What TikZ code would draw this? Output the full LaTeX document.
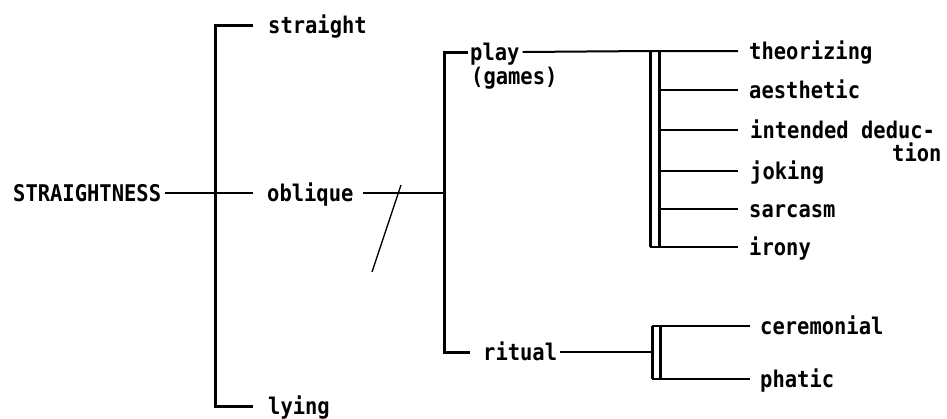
\documentclass[tikz,border=0pt]{standalone}
\usepackage{fontspec}
\setmainfont[FakeStretch=0.89,BoldFont={DejaVu Sans Mono Bold}]{DejaVu Sans Mono}
\begin{document}
\begin{tikzpicture}[x=1pt,y=-1pt,
  lbl/.style={font=\fontsize{23}{26}\selectfont\bfseries, inner sep=0pt, text height=16pt, text depth=0pt, anchor=west},
  brk/.style={line width=3pt, line cap=butt, line join=miter},
  twig/.style={line width=2pt},
  bar/.style={line width=3pt}]
\useasboundingbox (0,0) rectangle (947,418);
% labels
\node[lbl] (S) at (13,193) {STRAIGHTNESS};
\node[lbl] (straight) at (268,25) {straight};
\node[lbl] (oblique) at (267,193) {oblique};
\node[lbl] (lying) at (268,406) {lying};
\node[lbl] (play) at (470,52) {play};
\node[lbl] (games) at (471,76) {(games)};
\node[lbl] (ritual) at (483,352) {ritual};
\node[lbl] (theo) at (749,51) {theorizing};
\node[lbl] (aest) at (749,90) {aesthetic};
\node[lbl] (inte) at (750,130) {intended deduc-};
\node[lbl] (tion) at (892,153) {tion};
\node[lbl] (joke) at (750,171) {joking};
\node[lbl] (sarc) at (749,209) {sarcasm};
\node[lbl] (iron) at (749,247) {irony};
\node[lbl] (cere) at (760,326) {ceremonial};
\node[lbl] (phat) at (760,379) {phatic};
% junction coordinates
\coordinate (b1t) at (215,25);
\coordinate (b1b) at (215,406);
\coordinate (b2t) at (444,52);
\coordinate (b2m) at (444,193);
\coordinate (b2b) at (444,352);
\coordinate (d1a) at (650,51);
\coordinate (d1b) at (659,51);
\coordinate (d1c) at (650,247);
\coordinate (d1d) at (659,247);
\coordinate (d2a) at (652,326);
\coordinate (d2b) at (660,326);
\coordinate (d2c) at (652,379);
\coordinate (d2d) at (660,379);
% first bracket
\draw[brk] ([xshift=-15pt]straight.west) -- (b1t) -- (b1b) -- ([xshift=-15pt]lying.west);
\draw[twig] ([xshift=4pt]S.east) -- ([xshift=-14pt]oblique.west);
\draw[twig] ([xshift=9pt]oblique.east) -- (b2m);
% second bracket
\draw[brk] ([xshift=-2pt]play.west) -- (b2t) -- (b2b) -- ([xshift=-13pt]ritual.west);
\draw[twig] ([xshift=3pt]play.east) -- (d1a) -- ([xshift=-11pt]theo.west);
% play group double bar
\draw[bar] (d1a) -- (d1c);
\draw[bar] (d1b) -- (d1d);
\draw[twig] ([xshift=-11pt]aest.west) -- (d1b |- aest.west);
\draw[twig] ([xshift=-12pt]inte.west) -- (d1b |- inte.west);
\draw[twig] ([xshift=-12pt]joke.west) -- (d1b |- joke.west);
\draw[twig] ([xshift=-11pt]sarc.west) -- (d1b |- sarc.west);
\draw[twig] (d1c) -- ([xshift=-11pt]iron.west);
% ritual group
\draw[twig] ([xshift=3pt]ritual.east) -- (d2a |- ritual.west);
\draw[bar] (d2a) -- (d2c);
\draw[bar] (d2b) -- (d2d);
\draw[twig] (d2a) -- ([xshift=-10pt]cere.west);
\draw[twig] (d2c) -- ([xshift=-10pt]phat.west);
% stray slash across the oblique line
\draw[line width=1.3pt] (401,185) -- (372,272);
\end{tikzpicture}
\end{document}
